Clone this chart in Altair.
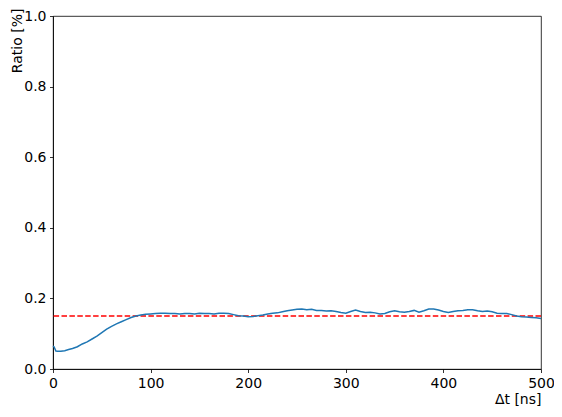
import altair as alt
import pandas as pd

t_ns = [0, 1, 3, 5, 8, 12, 16, 20, 25, 30, 35, 40, 45, 50, 55, 60, 65, 70, 75, 80,
        85, 90, 95, 100, 105, 110, 115, 120, 125, 130, 135, 140, 145, 150, 155, 160,
        165, 170, 175, 180, 185, 190, 195, 200, 205, 210, 215, 220, 225, 230, 235,
        240, 245, 250, 255, 260, 265, 270, 275, 280, 285, 290, 295, 300, 305, 310,
        315, 320, 325, 330, 335, 340, 345, 350, 355, 360, 365, 370, 375, 380, 385,
        390, 395, 400, 405, 410, 415, 420, 425, 430, 435, 440, 445, 450, 455, 460,
        465, 470, 475, 480, 485, 490, 495, 500]
ratio = [0.065, 0.063, 0.051, 0.050, 0.050, 0.052, 0.055, 0.058, 0.063, 0.071,
         0.077, 0.085, 0.093, 0.103, 0.113, 0.121, 0.128, 0.134, 0.140, 0.146,
         0.150, 0.153, 0.155, 0.156, 0.157, 0.158, 0.158, 0.157, 0.157, 0.156,
         0.157, 0.157, 0.156, 0.158, 0.157, 0.157, 0.156, 0.158, 0.158, 0.157,
         0.154, 0.151, 0.150, 0.148, 0.149, 0.151, 0.153, 0.156, 0.158, 0.159,
         0.162, 0.165, 0.167, 0.169, 0.170, 0.168, 0.169, 0.166, 0.166, 0.164,
         0.165, 0.163, 0.160, 0.158, 0.163, 0.167, 0.163, 0.160, 0.161, 0.159,
         0.156, 0.157, 0.162, 0.165, 0.162, 0.161, 0.163, 0.166, 0.161, 0.165,
         0.170, 0.170, 0.167, 0.163, 0.160, 0.163, 0.165, 0.166, 0.168, 0.168,
         0.165, 0.163, 0.164, 0.162, 0.158, 0.157, 0.157, 0.154, 0.150, 0.148,
         0.147, 0.146, 0.145, 0.143]
reference_level = [0.15]
x_ticks = [0, 100, 200, 300, 400, 500]
y_ticks = [0.0, 0.2, 0.4, 0.6, 0.8, 1.0]

df = pd.DataFrame({"t": t_ns, "ratio": ratio})
ref_df = pd.DataFrame({"level": reference_level})

FONT = "DejaVu Sans"

x_axis = alt.Axis(values=x_ticks, title="Δt [ns]", titleAnchor="end",
                  titlePadding=2, labelFlush=False)
y_axis = alt.Axis(values=y_ticks, format=".1f", title="Ratio [%]",
                  titleAnchor="end", titleX=-43, titleY=-8,
                  titleBaseline="top", titleAlign="right", titleAngle=270)

line = alt.Chart(df).mark_line(color="#1f77b4", strokeWidth=1.5).encode(
    x=alt.X("t:Q", scale=alt.Scale(domain=[0, 500], nice=False), axis=x_axis),
    y=alt.Y("ratio:Q", scale=alt.Scale(domain=[0, 1], nice=False), axis=y_axis),
)

ref = alt.Chart(ref_df).mark_rule(color="red", strokeWidth=1.5,
                                   strokeDash=[5.5, 2.4]).encode(
    y=alt.Y("level:Q"),
)

chart = alt.layer(ref, line).properties(
    width=488, height=353,
    background="white",
    autosize=alt.AutoSizeParams(type="none"),
    padding={"left": 45, "top": 8, "right": 13, "bottom": 40},
).configure_view(
    stroke="black", strokeWidth=0.8
).configure_axis(
    grid=False,
    domainColor="black", domainWidth=0.8,
    tickColor="black", tickWidth=0.8, tickSize=3.5,
    labelFont=FONT, labelFontSize=14, labelColor="black", labelPadding=3.5,
    titleFont=FONT, titleFontSize=14, titleFontWeight="normal", titleColor="black",
)

chart.save("out.html", embed_options={"renderer": "svg", "actions": False})
